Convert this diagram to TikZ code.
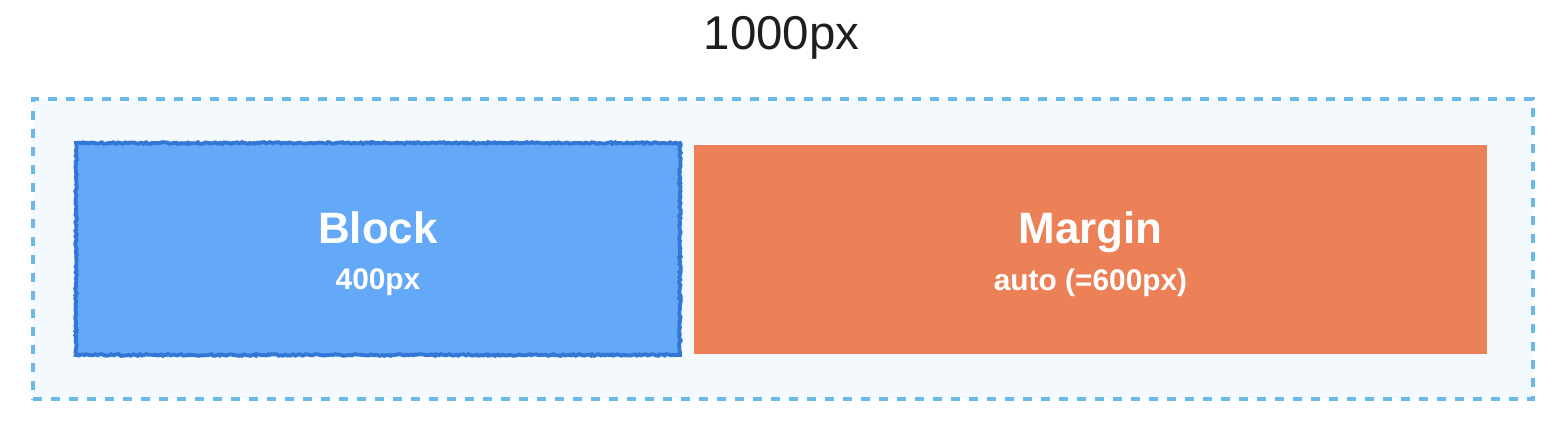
\documentclass[tikz,border=0pt]{standalone}
\usepackage{fontspec}
\setmainfont{Liberation Sans}
\usetikzlibrary{positioning, calc, decorations.pathmorphing}
\definecolor{cBlock}{RGB}{100,168,248}
\definecolor{cBlockEdge}{RGB}{50,118,214}
\definecolor{cMargin}{RGB}{236,128,86}
\definecolor{cOuter}{RGB}{244,249,253}
\definecolor{cDash}{RGB}{108,184,232}
\definecolor{cTitle}{RGB}{30,30,30}
\begin{document}
\begin{tikzpicture}[x=0.02cm, y=-0.02cm,
    outerbox/.style={draw=cDash, fill=cOuter, line width=2.5pt, dash pattern=on 0.18cm off 0.18cm, minimum width=30cm, minimum height=6cm, inner sep=0pt},
    blockbox/.style={fill=cBlock, draw=cBlockEdge, line width=2.2pt, decorate, decoration={random steps, segment length=1.2pt, amplitude=0.5pt}, minimum width=12.08cm, minimum height=4.24cm, inner sep=0pt},
    marginbox/.style={fill=cMargin, minimum width=15.86cm, minimum height=4.18cm, inner sep=0pt},
    boxtitle/.style={text=white, font=\fontsize{25}{30}\selectfont\bfseries, anchor=base},
    boxsub/.style={text=white, font=\fontsize{17}{20}\selectfont\bfseries, anchor=base}]
    \useasboundingbox (0,0) rectangle (1568,426);
    \node[text=cTitle, font=\fontsize{27}{32}\selectfont, anchor=base] (width) at (781.5,50) {1000px};
    \node[outerbox] (outer) at (783,249) {};
    \node[blockbox] (block) at (378,249) {};
    \node[marginbox] (margin) at (1090.5,249.5) {};

    \node[boxtitle] (blocktitle) at ([yshift=0.12cm]block.center) {Block};
    \node[boxsub] (blocksub) at ([yshift=-0.82cm]block.center) {400px};
    \node[boxtitle] (margintitle) at ([yshift=0.12cm]margin.center) {Margin};
    \node[boxsub] (marginsub) at ([yshift=-0.82cm]margin.center) {auto (=600px)};
\end{tikzpicture}
\end{document}
